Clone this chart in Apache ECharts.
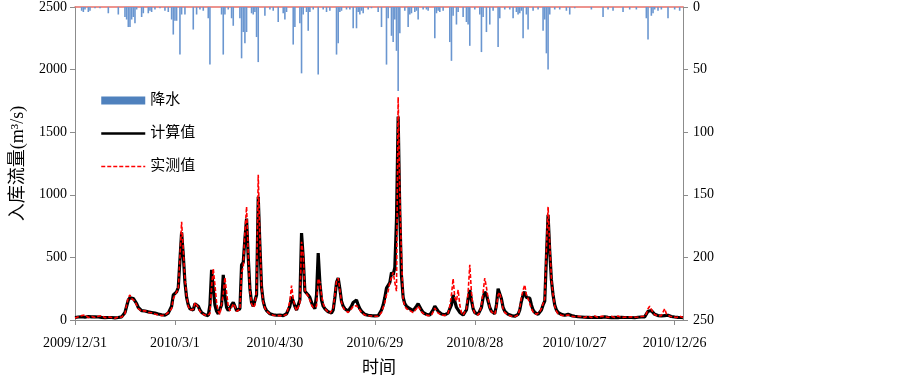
<!DOCTYPE html>
<html><head><meta charset="utf-8">
<script src="https://cdn.jsdelivr.net/npm/echarts@6/dist/echarts.min.js"></script>
<style>html,body{margin:0;padding:0;background:#fff}#c{width:903px;height:379px}</style>
</head><body><div id="c"></div>
<script>
// start date of category axis and number of days
const startDate = [2009, 12, 31];
const dayCount = 366;
const tickEvery = 60;

// daily precipitation (mm): [dayIndex, value] ; dayIndex 0 = 2009/12/31
const rainEvents = [
 [4,3],[5,4],[6,2],[8,4],[9,3],[12,1],[15,1],[20,5],[26,6],[30,8],[31,10],[32,16],[33,16],[34,10],[35,8],[36,13],[37,2],
 [40,8],[41,5],[44,5],[45,3],[46,4],[48,2],[51,1],[54,3],[56,4],[58,10],[59,22],[60,11],[61,11],[63,38],[64,6],[66,6],
 [71,18],[73,6],[75,2],[77,3],[80,9],[81,46],[88,6],[89,38],[90,6],[92,2],[94,9],[95,15],[99,9],[100,41],[101,20],[102,29],[103,20],
 [106,5],[107,6],[108,4],[109,24],[110,44],[114,7],[117,2],[119,3],[122,12],[125,5],[126,10],[127,4],[131,30],[132,16],
 [135,13],[136,53],[137,6],[139,4],[140,19],[141,4],[143,2],[146,54],[149,2],[151,4],[153,3],[157,38],[158,29],[159,4],
 [160,3],[163,2],[165,2],[167,17],[169,17],[170,4],[171,6],[172,3],[173,5],[176,2],[178,1],[182,4],[184,16],[187,46],[188,9],
 [190,23],[191,28],[192,10],[193,35],[194,67],[195,21],[198,3],[200,16],[201,6],[202,5],[204,4],[205,3],[206,10],[209,2],
 [211,2],[212,3],[216,25],[217,5],[218,3],[219,4],[221,3],[225,28],[226,43],[227,7],[229,14],[230,4],[233,8],[235,12],[236,14],[237,31],
 [240,2],[243,6],[244,36],[245,8],[247,20],[249,14],[251,3],[254,32],[255,9],[258,2],[261,2],[263,9],[265,4],[266,6],[267,5],[268,3],
 [269,25],[271,6],[272,18],[275,3],[278,2],[281,19],[282,10],[283,37],[284,50],[285,6],[288,2],[291,2],[295,3],[297,6],
 [300,1],[310,2],[317,8],[320,2],[323,3],[329,4],[333,2],[337,2],[343,9],[344,26],[346,7],[347,5],[348,2],[350,3],[352,2],[356,9],[360,2],[363,3]
];

// computed inflow (m3/s), daily from 2009/12/31
const computed = [
 20,22,24,25,26,24,22,25,28,27, 25,24,26,28,24,22,21,20,19,18, 20,22,20,18,17,18,20,22,25,30,
 60,110,160,178,165,172,160,130,100,85, 75,70,72,68,65,62,60,58,55,52, 48,45,42,40,38,42,55,60,110,200,
 215,225,260,480,700,520,300,180,120,90, 75,80,130,145,110,80,60,50,42,38, 35,120,400,250,120,70,50,45,120,360,
 200,100,75,90,120,140,110,75,60,90, 440,460,650,810,500,250,140,110,115,200, 985,600,260,150,100,75,60,50,45,42,
 40,38,36,40,38,35,45,50,42,110, 185,150,110,80,70,160,695,500,230,220, 200,180,140,110,90,200,535,300,160,110,
 90,75,65,58,55,80,180,300,335,250, 150,110,90,75,70,80,110,140,155,160, 120,90,70,55,45,40,38,36,35,34,
 33,32,34,40,80,120,180,255,260,300, 380,360,420,800,1625,850,350,180,130,110, 100,90,80,75,90,110,130,115,80,60,
 50,45,42,40,45,80,110,90,70,55, 48,45,42,40,55,90,120,200,150,100, 80,60,45,40,45,80,170,240,160,90,
 60,50,45,55,100,180,225,200,150,100, 70,55,50,120,250,245,170,100,70,55, 45,40,35,32,30,35,45,80,150,200,
 225,180,175,175,120,80,60,50,45,55, 80,120,150,500,840,550,320,200,120,80, 60,50,45,40,38,42,45,40,35,32,
 30,28,26,25,24,23,22,22,21,20, 20,20,21,22,20,19,20,22,25,23, 21,20,19,20,21,20,19,20,22,21,
 20,19,20,21,20,19,18,20,22,25, 24,22,25,40,70,80,75,60,45,38, 35,33,32,30,35,40,38,32,28,26,
 24,22,21,20,20,19
];

// observed inflow (m3/s), daily from 2009/12/31
const observed = [
 15,18,25,30,35,50,40,25,20,22, 28,25,20,18,30,40,35,22,18,16, 25,30,20,15,14,18,25,20,22,28,
 50,120,180,200,170,160,150,120,90,80, 70,65,75,70,60,55,58,50,48,45, 40,38,35,35,40,50,60,55,90,170,
 200,215,250,500,785,560,320,190,110,80, 70,85,140,150,100,70,55,45,40,35, 32,50,260,410,280,140,70,45,55,210,
 340,220,110,75,100,130,110,70,55,85, 380,420,700,905,520,240,130,100,120,240, 1160,640,260,140,95,70,55,48,42,38,
 36,34,33,36,34,32,40,45,40,150, 275,170,110,75,65,130,625,520,240,210, 190,160,120,100,85,110,330,300,200,130,
 95,75,60,55,50,90,200,310,335,240, 140,100,80,65,60,70,90,110,120,115, 100,80,60,48,40,36,34,32,32,30,
 30,28,30,35,60,100,140,200,230,300, 340,380,300,230,1780,1000,500,160,110,90, 85,75,65,60,70,90,110,90,65,50,
 42,38,35,33,38,65,95,75,55,45, 40,38,36,35,55,110,200,330,180,150, 240,120,60,40,42,90,220,440,220,90,
 55,45,40,60,120,220,335,260,170,100, 65,50,45,100,200,220,150,90,60,48, 40,35,30,28,27,30,40,90,180,240,
 280,200,170,130,90,65,55,45,50,65, 90,130,170,560,905,600,330,200,110,70, 50,42,38,35,34,38,40,35,30,28,
 26,25,30,35,26,22,20,24,32,22, 20,25,32,24,20,18,30,35,28,22, 20,22,30,28,20,25,32,26,20,18,
 22,30,24,20,25,28,22,20,24,30, 28,25,30,50,90,110,85,60,42,35, 32,30,35,40,90,50,35,30,28,25,
 22,20,25,30,22,20
];

const names = {rain: '降水', calc: '计算值', obs: '实测值', x: '时间', y: '入库流量(m³/s)'};

const categories = [];
{
  const d0 = new Date(startDate[0], startDate[1] - 1, startDate[2]);
  for (let i = 0; i < dayCount; i++) {
    const d = new Date(d0.getFullYear(), d0.getMonth(), d0.getDate() + i);
    categories.push(d.getFullYear() + '/' + (d.getMonth() + 1) + '/' + d.getDate());
  }
}
const rain = new Array(dayCount).fill(0);
rainEvents.forEach(([i, v]) => { rain[i] = v; });

const FONT = "'Liberation Serif','Noto Sans CJK SC',serif";
const axisGray = '#8c8c8c';
const plain = v => String(v);
const chart = echarts.init(document.getElementById('c'), null, {renderer: 'canvas'});
chart.setOption({
  animation: false,
  backgroundColor: '#fff',
  textStyle: {fontFamily: FONT},
  grid: {left: 75, right: 220, top: 7, bottom: 59, containLabel: false, outerBoundsMode: 'none'},
  legend: {
    orient: 'vertical', left: 100, top: 93, padding: 0, itemWidth: 44, itemHeight: 8, itemGap: 18,
    textStyle: {fontFamily: FONT, fontSize: 15, color: '#000'},
    data: [
      {name: names.rain, icon: 'rect', itemStyle: {color: '#4f81bd'}},
      {name: names.calc, itemStyle: {opacity: 0}, lineStyle: {color: '#000', width: 2.5}},
      {name: names.obs, itemStyle: {opacity: 0}, lineStyle: {color: '#ff0000', width: 1.5, type: [4, 2]}}
    ]
  },
  xAxis: [{
    type: 'category', data: categories, boundaryGap: false,
    name: names.x, nameLocation: 'middle', nameGap: 40,
    nameTextStyle: {fontFamily: FONT, fontSize: 17, color: '#000'},
    axisLine: {lineStyle: {color: axisGray}},
    axisTick: {interval: tickEvery - 1, length: 5, lineStyle: {color: axisGray}},
    axisLabel: {interval: tickEvery - 1, margin: 16, fontSize: 14, color: '#000', fontFamily: FONT},
    splitLine: {show: false}
  }, {
    type: 'category', data: categories, boundaryGap: false, position: 'top',
    axisLine: {lineStyle: {color: '#e8706a', width: 1.5}},
    axisTick: {show: false}, axisLabel: {show: false}, splitLine: {show: false}
  }],
  yAxis: [{
    type: 'value', min: 0, max: 2500, interval: 500, position: 'left',
    name: names.y, nameLocation: 'middle', nameGap: 48, nameRotate: 90,
    nameTextStyle: {fontFamily: FONT, fontSize: 18, color: '#000'},
    axisLine: {show: true, lineStyle: {color: axisGray}},
    axisTick: {show: true, length: 5, lineStyle: {color: axisGray}},
    axisLabel: {fontSize: 14, color: '#000', margin: 8, fontFamily: FONT, formatter: plain},
    splitLine: {show: false}
  }, {
    type: 'value', min: 0, max: 250, interval: 50, position: 'right', inverse: true,
    axisLine: {show: true, lineStyle: {color: axisGray}},
    axisTick: {show: true, length: 5, lineStyle: {color: axisGray}},
    axisLabel: {fontSize: 14, color: '#000', margin: 10, fontFamily: FONT, formatter: plain},
    splitLine: {show: false}
  }],
  series: [{
    name: names.rain, type: 'bar', xAxisIndex: 0, yAxisIndex: 1, data: rain,
    barWidth: 1.6, itemStyle: {color: '#6a96d0'}, barGap: '-100%'
  }, {
    name: names.calc, type: 'line', yAxisIndex: 0, data: computed,
    symbol: 'none', lineStyle: {color: '#000', width: 3.2}, itemStyle: {color: '#000'}
  }, {
    name: names.obs, type: 'line', yAxisIndex: 0, data: observed,
    symbol: 'none', lineStyle: {color: '#ff0000', width: 1.6, type: [4, 2]}, itemStyle: {color: '#ff0000'}
  }]
});
</script></body></html>
